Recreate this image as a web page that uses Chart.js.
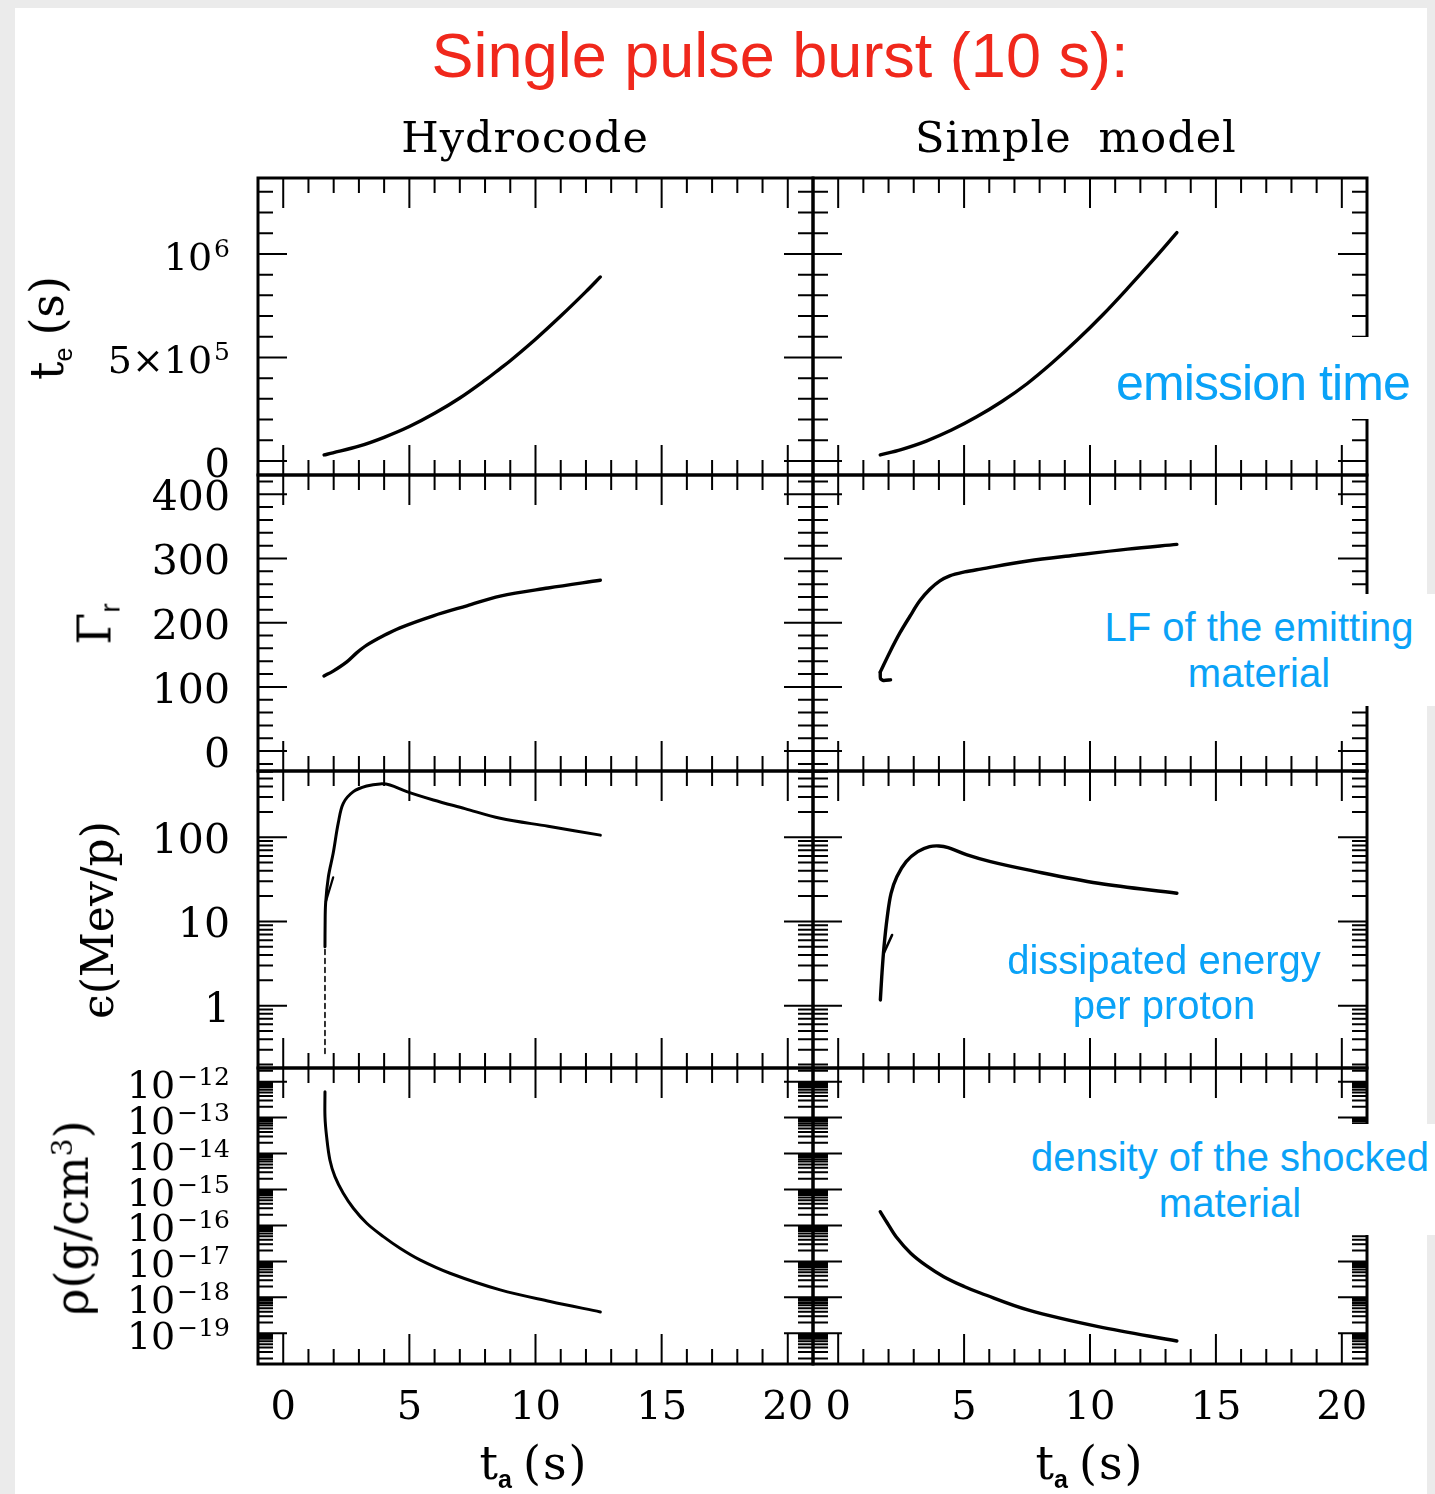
<!DOCTYPE html>
<html>
<head>
<meta charset="utf-8">
<title>Single pulse burst (10 s)</title>
<script src="https://cdn.jsdelivr.net/npm/chart.js@4.4.1/dist/chart.umd.min.js"></script>
<style>
html, body { margin:0; padding:0; background:#ebebeb; }
#page { position:relative; width:1435px; height:1494px; overflow:hidden; background:#ebebeb; }
#sheet { position:absolute; left:15px; top:8px; width:1412px; height:1486px; background:#fff; }
canvas { position:absolute; z-index:2; }
.txt { position:absolute; white-space:nowrap; line-height:1; color:#000; z-index:3; }
.serif { font-family:'DejaVu Serif', serif; }
.sans { font-family:'Liberation Sans', Arial, sans-serif; }
.rot { transform: translate(-50%,-50%) rotate(-90deg); }
.ctr { transform: translateX(-50%); text-align:center; }
.sub { font-family:'Liberation Sans', Arial, sans-serif; font-size:25px; vertical-align:-9px; }
.box { position:absolute; background:#fff; z-index:5; }
.note { position:absolute; z-index:6; color:#0aa2f7; font-family:'Liberation Sans', Arial, sans-serif; text-align:center; white-space:nowrap; transform:translateX(-50%); }
</style>
</head>
<body>
<div id="page">
  <div id="sheet"></div>
  <div class="txt sans ctr" style="left:780px; top:24px; font-size:63px; color:#f0281c;">Single pulse burst (10 s):</div>
  <div class="txt serif ctr" style="left:525px; top:116px; font-size:43px; letter-spacing:1px;">Hydrocode</div>
  <div class="txt serif ctr" style="left:1076px; top:116px; font-size:43px; letter-spacing:1px; word-spacing:12px;">Simple model</div>

  <div class="txt serif rot" style="left:50px; top:328px; font-size:46px;">t<span class="sub" style="margin-right:12px;">e</span>(s)</div>
  <div class="txt serif rot" style="left:98px; top:624px; font-size:46px;">Γ<span class="sub" style="font-size:28px;">r</span></div>
  <div class="txt serif rot" style="left:98px; top:920px; font-size:44px;">ϵ(Mev/p)</div>
  <div class="txt serif rot" style="left:72px; top:1218px; font-size:46px;">ρ(g/cm<sup style="font-size:28px;">3</sup>)</div>

  <div class="txt serif ctr" style="left:534px; top:1440px; font-size:46px;">t<span class="sub" style="font-weight:bold; margin-right:11px;">a</span><span style="letter-spacing:2px;">(s)</span></div>
  <div class="txt serif ctr" style="left:1090px; top:1440px; font-size:46px;">t<span class="sub" style="font-weight:bold; margin-right:11px;">a</span><span style="letter-spacing:2px;">(s)</span></div>

  <div class="box" style="left:1105px; top:337px; width:322px; height:82px;"></div>
  <div class="note" style="left:1263px; top:358px; font-size:50px; line-height:50px; letter-spacing:-0.9px;">emission time</div>

  <div class="box" style="left:1092px; top:594px; width:343px; height:112px;"></div>
  <div class="note" style="left:1259px; top:604px; font-size:40px; line-height:46px;">LF of the emitting<br>material</div>

  <div class="note" style="left:1164px; top:938px; font-size:40px; line-height:45px;">dissipated energy<br>per proton</div>

  <div class="box" style="left:1018px; top:1124px; width:417px; height:111px;"></div>
  <div class="note" style="left:1230px; top:1134px; font-size:40px; line-height:46px;">density of the shocked<br>material</div>
</div>
<script>
// ---------------- axes ----------------
const xRange = [-1, 21];
const xMajorTicks = [0, 5, 10, 15, 20];
const xTickLabels = ['0', '5', '10', '15', '20'];

const teRange = [-68000, 1367000];
const teMajorTicks = [0, 500000, 1000000];
const teTickLabels = ['0', '5×10^5', '10^6'];
const teMinorStep = 100000;

const gammaRange = [-31, 430];
const gammaMajorTicks = [0, 100, 200, 300, 400];
const gammaTickLabels = ['0', '100', '200', '300', '400'];
const gammaMinorStep = 20;

const epsRange = [0.182, 612];
const epsMajorTicks = [1, 10, 100];
const epsTickLabels = ['1', '10', '100'];

const rhoRange = [1.4e-20, 2.4e-12];
const rhoMajorTicks = [1e-19, 1e-18, 1e-17, 1e-16, 1e-15, 1e-14, 1e-13, 1e-12];
const rhoTickLabels = ['10^−19', '10^−18', '10^−17', '10^−16', '10^−15', '10^−14', '10^−13', '10^−12'];

// ---------------- data: Hydrocode (left column) ----------------
const hydroTeX = [1.62, 1.97, 3, 4, 5, 6, 7, 8, 8.6, 9, 10, 11, 12, 12.57];
const hydroTeY = [29000, 39000, 71000, 114000, 166000, 230000, 304000, 390000, 446000, 484000, 588000, 700000, 818000, 889000];

const hydroGammaX = [1.615, 1.98, 2.52, 2.91, 3.31, 3.97, 4.63, 5.95, 7.28, 8.6, 10.5, 12.57];
const hydroGammaY = [117, 124.6, 139, 153, 165, 179.6, 192, 210.7, 226.3, 241.4, 254, 266];

const hydroEpsLowX = [1.655, 1.655];
const hydroEpsLowY = [0.27, 5.0];
const hydroEpsX = [1.655, 1.66, 1.68, 1.79, 1.98, 2.18, 2.38, 2.78, 3.31, 3.84, 4.23, 4.9, 5.95, 7.2, 8.6, 10.5, 12.57];
const hydroEpsY = [5, 9, 16.4, 34, 64.6, 147, 253, 348, 406, 430, 418, 348, 277, 219, 168, 135, 106];
const hydroEpsSpurX = [1.69, 1.98];
const hydroEpsSpurY = [17.2, 33.4];

const hydroRhoX = [1.655, 1.655, 1.72, 1.85, 2.05, 2.38, 2.78, 3.31, 3.97, 4.63, 5.42, 6.61, 8.6, 10.58, 12.57];
const hydroRhoY = [5.27e-13, 1.06e-13, 2.95e-14, 6.64e-15, 2.28e-15, 7.87e-16, 3.01e-16, 1.15e-16, 4.88e-17, 2.32e-17, 1.10e-17, 4.68e-18, 1.61e-18, 7.69e-19, 3.93e-19];

// ---------------- data: Simple model (right column) ----------------
const simpleTeX = [1.67, 2.5, 3.5, 4.5, 5.5, 6.5, 7.5, 8.5, 9.5, 10.5, 11.5, 12.5, 13.45];
const simpleTeY = [29000, 55000, 96000, 149000, 213000, 287000, 373000, 474000, 585000, 705000, 835000, 970000, 1103000];

const simpleGammaX = [1.67, 2.05, 2.45, 2.85, 3.24, 3.64, 4.04, 4.43, 5.02, 5.65, 7.53, 9.39, 11.5, 13.45];
const simpleGammaY = [123, 154, 184, 210, 234, 252, 265, 273, 279, 283.5, 296, 305, 314.6, 322];
const simpleGammaHookX = [1.67, 1.68, 1.8, 2.08];
const simpleGammaHookY = [123, 113, 110, 111];

const simpleEpsX = [1.675, 1.73, 1.82, 1.95, 2.10, 2.33, 2.70, 3.16, 3.63, 4.0, 4.37, 5.12, 6.05, 7.54, 10.33, 13.45];
const simpleEpsY = [1.17, 2.21, 5.02, 11.4, 21.6, 34.0, 51.3, 67.5, 77.3, 78.8, 75.2, 61.7, 51.3, 40.9, 28.4, 21.6];
const simpleEpsSpurX = [1.81, 2.14];
const simpleEpsSpurY = [4.19, 6.9];

const simpleRhoX = [1.67, 1.95, 2.3, 2.88, 3.5, 4.19, 5.0, 5.67, 7.53, 10.33, 13.45];
const simpleRhoY = [2.42e-16, 1.17e-16, 4.85e-17, 1.69e-17, 7.62e-18, 3.77e-18, 2.01e-18, 1.30e-18, 4.47e-19, 1.53e-19, 6.12e-20];

// ---------------- layout ----------------
const colEdges = [[258, 813], [813, 1367]];
const rowEdges = [[178, 475], [475, 771], [771, 1068], [1068, 1364]];

const rowsCfg = [
  { type: 'linear', range: teRange, major: teMajorTicks, labels: teTickLabels, minorStep: teMinorStep, font: 38, plainFont: 40 },
  { type: 'linear', range: gammaRange, major: gammaMajorTicks, labels: gammaTickLabels, minorStep: gammaMinorStep, font: 41, plainFont: 41 },
  { type: 'logarithmic', range: epsRange, major: epsMajorTicks, labels: epsTickLabels, font: 41, plainFont: 41 },
  { type: 'logarithmic', range: rhoRange, major: rhoMajorTicks, labels: rhoTickLabels, font: 38, plainFont: 38 }
];

const panels = [
  { col: 0, row: 0, series: [{ x: hydroTeX, y: hydroTeY }] },
  { col: 1, row: 0, series: [{ x: simpleTeX, y: simpleTeY }] },
  { col: 0, row: 1, series: [{ x: hydroGammaX, y: hydroGammaY }] },
  { col: 1, row: 1, series: [{ x: simpleGammaX, y: simpleGammaY }, { x: simpleGammaHookX, y: simpleGammaHookY, t: 0.2 }] },
  { col: 0, row: 2, series: [{ x: hydroEpsLowX, y: hydroEpsLowY, w: 1.6, dash: [5, 4], t: 0 }, { x: hydroEpsX, y: hydroEpsY, w: 3 }, { x: hydroEpsSpurX, y: hydroEpsSpurY, w: 2.2, t: 0 }] },
  { col: 1, row: 2, series: [{ x: simpleEpsX, y: simpleEpsY }, { x: simpleEpsSpurX, y: simpleEpsSpurY, w: 2.6, t: 0 }] },
  { col: 0, row: 3, series: [{ x: hydroRhoX, y: hydroRhoY, w: 3 }] },
  { col: 1, row: 3, series: [{ x: simpleRhoX, y: simpleRhoY }] }
];

const framePlugin = {
  id: 'frameTicks',
  afterDraw(chart, args, opts) {
    const { ctx, chartArea: a } = chart;
    const xs = chart.scales.x, ys = chart.scales.y;
    ctx.save();
    ctx.strokeStyle = '#000';
    ctx.lineWidth = 2;
    ctx.beginPath();
    for (let v = Math.ceil(xs.min); v <= xs.max; v++) {
      const px = xs.getPixelForValue(v);
      const len = xMajorTicks.includes(v) ? 30 : 15;
      ctx.moveTo(px, a.top); ctx.lineTo(px, a.top + len);
      ctx.moveTo(px, a.bottom); ctx.lineTo(px, a.bottom - len);
    }
    const yt = [];
    if (opts.type === 'linear') {
      for (let v = Math.ceil(ys.min / opts.minorStep) * opts.minorStep; v <= ys.max; v += opts.minorStep) {
        yt.push([v, opts.major.some(m => Math.abs(m - v) < 1e-9 * Math.max(1, Math.abs(m)))]);
      }
    } else {
      const k0 = Math.floor(Math.log10(ys.min)), k1 = Math.ceil(Math.log10(ys.max));
      for (let k = k0; k <= k1; k++) {
        for (let j = 1; j <= 9; j++) {
          const v = j * Math.pow(10, k);
          if (v >= ys.min && v <= ys.max) yt.push([v, j === 1]);
        }
      }
    }
    yt.forEach(([v, major]) => {
      const py = ys.getPixelForValue(v);
      const len = major ? 29 : 15;
      ctx.moveTo(a.left, py); ctx.lineTo(a.left + len, py);
      ctx.moveTo(a.right, py); ctx.lineTo(a.right - len, py);
    });
    ctx.stroke();
    ctx.lineWidth = 3;
    ctx.strokeRect(a.left, a.top, a.right - a.left, a.bottom - a.top);

    // y tick labels (with superscript exponents), placed by the y scale
    if (opts.showLabels) {
      ctx.fillStyle = '#000';
      ctx.textAlign = 'left';
      ctx.textBaseline = 'alphabetic';
      const xr = a.left - 28;
      opts.major.forEach((v, i) => {
        const py = ys.getPixelForValue(v);
        const parts = opts.labels[i].split('^');
        const base = parts[0], exp = parts[1];
        let expW = 0;
        if (exp) {
          ctx.font = "25px 'DejaVu Serif'";
          const w = ctx.measureText(exp).width;
          ctx.fillText(exp, xr - w, py + 3);
          expW = w + 2;
          ctx.font = opts.font + "px 'DejaVu Serif'";
        } else {
          ctx.font = opts.plainFont + "px 'DejaVu Serif'";
        }
        const bw = ctx.measureText(base).width;
        ctx.fillText(base, xr - expW - bw, py + 16);
      });
    }
    ctx.restore();
  }
};

function makePanel(p) {
  const [L, R] = colEdges[p.col];
  const [T, B] = rowEdges[p.row];
  const rc = rowsCfg[p.row];
  const showY = p.col === 0, showX = p.row === 3;
  const padL = showY ? 200 : 60, padR = 60, padT = 60, padB = showX ? 80 : 60;
  const w = R - L + padL + padR, h = B - T + padT + padB;
  const cv = document.createElement('canvas');
  cv.width = w; cv.height = h;
  cv.style.left = (L - padL) + 'px';
  cv.style.top = (T - padT) + 'px';
  cv.style.width = w + 'px';
  cv.style.height = h + 'px';
  document.getElementById('page').appendChild(cv);

  const xScale = {
    type: 'linear', min: xRange[0], max: xRange[1], display: showX,
    grid: { display: false, drawTicks: false }, border: { display: false },
    afterBuildTicks: ax => { ax.ticks = xMajorTicks.map(v => ({ value: v })); },
    ticks: { autoSkip: false, maxRotation: 0, minRotation: 0, padding: 21, color: '#000',
      font: { family: 'DejaVu Serif', size: 40 }, callback: (v, i) => xTickLabels[i] }
  };
  if (showX) xScale.afterFit = sc => { sc.height = padB; };

  const yScale = {
    type: rc.type, min: rc.range[0], max: rc.range[1], display: showY,
    grid: { display: false, drawTicks: false }, border: { display: false },
    afterBuildTicks: ax => { ax.ticks = rc.major.map(v => ({ value: v })); },
    ticks: { display: false, autoSkip: false }
  };
  if (showY) yScale.afterFit = sc => { sc.width = padL; };

  new Chart(cv, {
    type: 'scatter',
    data: {
      datasets: p.series.map(s => ({
        data: s.x.map((v, i) => ({ x: v, y: s.y[i] })),
        showLine: true,
        borderColor: '#000', backgroundColor: '#000',
        borderWidth: s.w || 3.4,
        borderDash: s.dash || [],
        pointRadius: 0, pointHoverRadius: 0,
        tension: s.t === undefined ? 0.35 : s.t,
        borderCapStyle: 'round', borderJoinStyle: 'round'
      }))
    },
    options: {
      responsive: false, animation: false, devicePixelRatio: 1, events: [],
      layout: { padding: { left: showY ? 0 : padL, right: padR, top: padT, bottom: showX ? 0 : padB } },
      plugins: {
        legend: { display: false }, tooltip: { enabled: false }, title: { display: false },
        frameTicks: { type: rc.type, major: rc.major, minorStep: rc.minorStep, labels: rc.labels,
          font: rc.font, plainFont: rc.plainFont, showLabels: showY }
      },
      scales: { x: xScale, y: yScale }
    },
    plugins: [framePlugin]
  });
}

panels.forEach(makePanel);
</script>
</body>
</html>
